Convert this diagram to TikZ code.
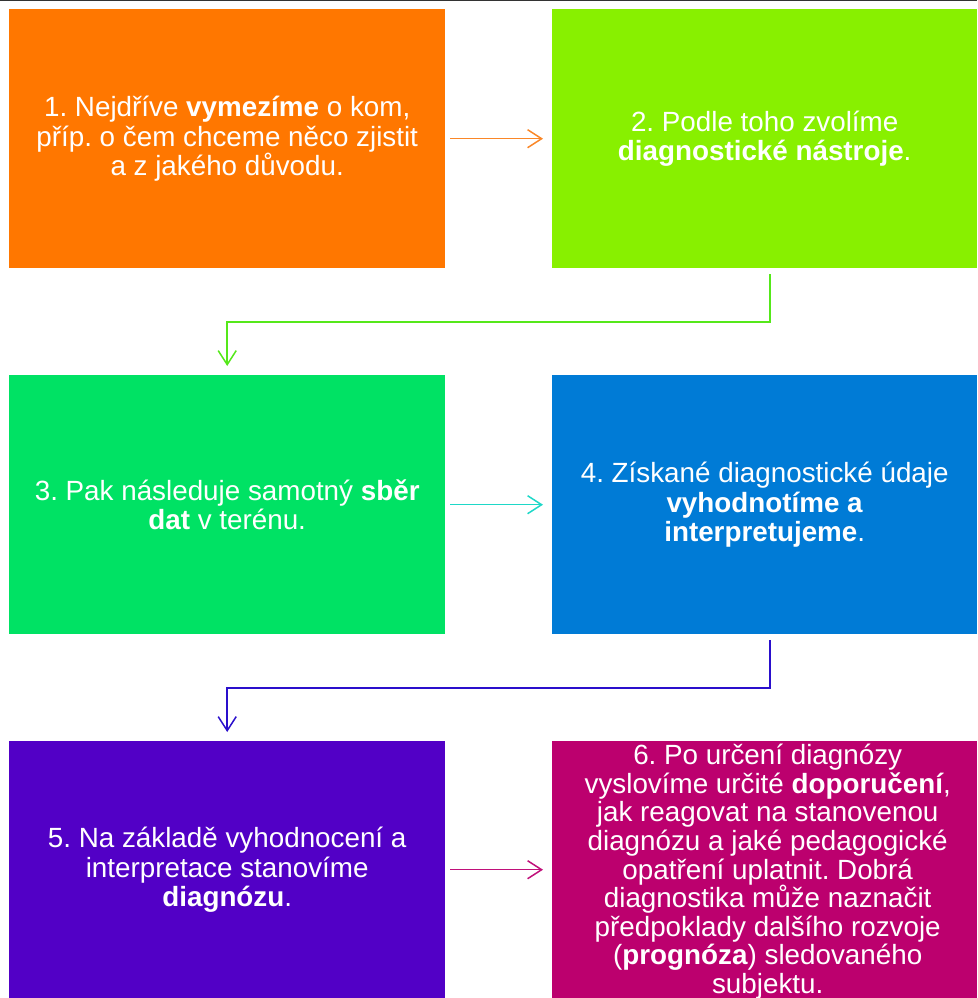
\documentclass[tikz,border=0pt]{standalone}
\usepackage{fontspec}
\setmainfont{Liberation Sans}
\usetikzlibrary{arrows.meta}
\definecolor{cOrange}{RGB}{255,119,0}
\definecolor{cLime}{RGB}{136,240,0}
\definecolor{cGreen}{RGB}{0,226,100}
\definecolor{cBlue}{RGB}{0,123,214}
\definecolor{cPurple}{RGB}{82,0,198}
\definecolor{cMagenta}{RGB}{188,0,110}
\definecolor{aOrange}{RGB}{250,135,40}
\definecolor{aLime}{RGB}{85,232,26}
\definecolor{aCyan}{RGB}{30,216,200}
\definecolor{aBlue}{RGB}{42,15,204}
\definecolor{aMagenta}{RGB}{192,16,122}
\tikzset{
  box/.style={rectangle, inner sep=0pt, minimum width=436pt, minimum height=259pt, draw=none},
  txt/.style={text=white, align=center, inner sep=0pt, font=\fontsize{27.8}{29.5}\selectfont\frenchspacing},
  conn/.style={line width=1.5pt, -{Straight Barb[length=14pt,width=18pt,line width=1.5pt]}},
}
\begin{document}
\begin{tikzpicture}[x=1pt,y=-1pt]
\useasboundingbox (0,0) rectangle (977,998);
\draw[line width=1.2pt, black!80] (0,0.6) -- (977,0.6);
\node[box, fill=cOrange, anchor=north west] (b1) at (9,9) {};
\node[box, fill=cLime, anchor=north west, minimum width=425pt] (b2) at (552,9) {};
\node[box, fill=cGreen, anchor=north west] (b3) at (9,375) {};
\node[box, fill=cBlue, anchor=north west, minimum width=425pt] (b4) at (552,375) {};
\node[box, fill=cPurple, anchor=north west, minimum height=257pt] (b5) at (9,741) {};
\node[box, fill=cMagenta, anchor=north west, minimum width=425pt, minimum height=257pt] (b6) at (552,741) {};
\node[txt] (t1) at (b1.center) {1. Nejdříve \textbf{vymezíme} o kom,\\příp. o čem chceme něco zjistit\\a z jakého důvodu.};
\node[txt] (t2) at (b2.center) {2. Podle toho zvolíme\\\textbf{diagnostické nástroje}.};
\node[txt] (t3) at (b3.center) {3. Pak následuje samotný \textbf{sběr}\\\textbf{dat} v terénu.};
\node[txt] (t4) at (b4.center) {4. Získané diagnostické údaje\\\textbf{vyhodnotíme a}\\\textbf{interpretujeme}.};
\node[txt] (t5) at (b5.center) {5. Na základě vyhodnocení a\\interpretace stanovíme\\\textbf{diagnózu}.};
\node[txt, font=\fontsize{27.8}{28.6}\selectfont\frenchspacing] (t6) at ([xshift=3pt,yshift=-2pt]b6.center) {6. Po určení diagnózy\\vyslovíme určité \textbf{doporučení},\\jak reagovat na stanovenou\\diagnózu a jaké pedagogické\\opatření uplatnit. Dobrá\\diagnostika může naznačit\\předpoklady dalšího rozvoje\\(\textbf{prognóza}) sledovaného\\subjektu.};
\draw[conn, aOrange] ([xshift=5pt]b1.east) -- ([xshift=-9pt]b2.west);
\draw[conn, aCyan] ([xshift=5pt]b3.east) -- ([xshift=-9pt]b4.west);
\draw[conn, aMagenta] ([xshift=5pt]b5.east) -- ([xshift=-9pt]b6.west);
\draw[conn, aLime] ([xshift=5.5pt,yshift=-6pt]b2.south) |- ([yshift=53pt]b3.north) -- ([yshift=9pt]b3.north);
\draw[conn, aBlue] ([xshift=5.5pt,yshift=-6pt]b4.south) |- ([yshift=53pt]b5.north) -- ([yshift=9pt]b5.north);
\end{tikzpicture}
\end{document}
